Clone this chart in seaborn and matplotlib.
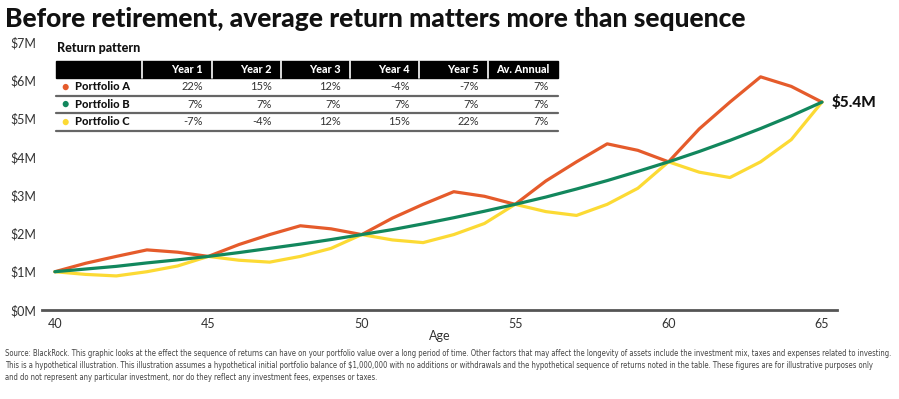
import numpy as np
import pandas as pd
import matplotlib.pyplot as plt
import seaborn as sns
from matplotlib.patches import Rectangle
from matplotlib.lines import Line2D

# portfolio values ($M), ages 40..65
ages = list(range(40, 66))
port_a = [1.00, 1.22, 1.40, 1.57, 1.51, 1.40, 1.71, 1.97, 2.20, 2.12, 1.97, 2.40, 2.76, 3.09, 2.97,
          2.76, 3.37, 3.87, 4.34, 4.17, 3.87, 4.73, 5.43, 6.09, 5.84, 5.43]
port_b = [1.00, 1.07, 1.14, 1.23, 1.31, 1.40, 1.50, 1.61, 1.72, 1.84, 1.97, 2.10, 2.25, 2.41, 2.58,
          2.76, 2.95, 3.16, 3.38, 3.62, 3.87, 4.14, 4.43, 4.74, 5.07, 5.43]
port_c = [1.00, 0.93, 0.89, 1.00, 1.15, 1.40, 1.30, 1.25, 1.40, 1.61, 1.97, 1.83, 1.76, 1.97, 2.26,
          2.76, 2.57, 2.47, 2.76, 3.18, 3.87, 3.60, 3.46, 3.87, 4.45, 5.43]

names = ["Portfolio A", "Portfolio B", "Portfolio C"]
colors = ["#E55B2B", "#12875D", "#FCDA34"]

table_cols = ["", "Year 1", "Year 2", "Year 3", "Year 4", "Year 5", "Av. Annual"]
table_rows = [["22%", "15%", "12%", "-4%", "-7%", "7%"],
              ["7%", "7%", "7%", "7%", "7%", "7%"],
              ["-7%", "-4%", "12%", "15%", "22%", "7%"]]

note_lines = [
    "Source: BlackRock. This graphic looks at the effect the sequence of returns can have on your portfolio value over a long period of time. "
    "Other factors that may affect the longevity of assets include the investment mix, taxes and expenses related to investing.",
    "This is a hypothetical illustration. This illustration assumes a hypothetical initial portfolio balance of $1,000,000 with no additions or withdrawals "
    "and the hypothetical sequence of returns noted in the table. These figures are for illustrative purposes only",
    "and do not represent any particular investment, nor do they reflect any investment fees, expenses or taxes.",
]

df = pd.DataFrame({"age": ages * 3,
                   "value": port_a + port_b + port_c,
                   "portfolio": sum([[n] * len(ages) for n in names], [])})

sns.set_style("white")
plt.rcParams['font.family'] = ['Lato', 'DejaVu Sans']

W, H = 899, 399
fig = plt.figure(figsize=(W / 100, H / 100), dpi=100)

def fx(px):
    return px / W

def fy(py):
    return 1 - py / H

# axes: left 42, right 837, top 42 (7M), bottom 310 (0M)
ax = fig.add_axes([fx(42), fy(310), fx(837 - 42), (310 - 42) / H])
sns.lineplot(data=df, x="age", y="value", hue="portfolio", palette=colors,
             linewidth=2.3, legend=False, ax=ax)
# keep green on top
for ln, z in zip(ax.get_lines(), [2, 4, 3]):
    ln.set_zorder(z)

ax.set_xlim(39.58, 65.49)
ax.set_ylim(0, 7)
ax.set_xticks([40, 45, 50, 55, 60, 65])
ax.set_yticks(range(0, 8))
ax.set_yticklabels([f"${v}M" for v in range(0, 8)])
ax.tick_params(axis="both", length=0, labelsize=9, colors="#333333")
ax.tick_params(axis="x", pad=6)
for lab in ax.get_yticklabels():
    lab.set_horizontalalignment("left")
ax.yaxis.set_tick_params(pad=23)
for s in ["top", "right", "left"]:
    ax.spines[s].set_visible(False)
ax.spines["bottom"].set_color("#555555")
ax.spines["bottom"].set_linewidth(2)
ax.set_xlabel("Age", fontsize=9, color="#333333", labelpad=0)
ax.set_ylabel("")
ax.grid(False)

ax.annotate("$5.4M", xy=(65, port_b[-1]), xytext=(7, 0), textcoords="offset points",
            fontsize=11, fontweight="black", va="center", ha="left", color="#111111")

# title
fig.text(fx(5), fy(19), "Before retirement, average return matters more than sequence",
         fontsize=19, fontweight="black", color="#111111", va="center", ha="left")

# table
fig.text(fx(57), fy(48), "Return pattern", fontsize=9, fontweight="black",
         color="#111111", va="center", ha="left")
col_edges = [56, 142, 212, 281, 350, 419, 488, 558]
head_top, head_bot = 61, 78
row_h = 17.5
fig.add_artist(Rectangle((fx(col_edges[0]), fy(head_bot)), fx(col_edges[-1] - col_edges[0]),
                         (head_bot - head_top) / H, color="black", transform=fig.transFigure))
for e in col_edges[1:-1]:
    fig.add_artist(Line2D([fx(e), fx(e)], [fy(head_top), fy(head_bot)], color="white",
                          linewidth=1.2, transform=fig.transFigure))
for j, c in enumerate(table_cols[1:]):
    fig.text(fx(col_edges[j + 2] - 9), fy((head_top + head_bot) / 2), c, fontsize=7.8,
             fontweight="black", color="white", va="center", ha="right")
for i, (name, vals) in enumerate(zip(names, table_rows)):
    top = head_bot + i * row_h
    cy = top + row_h / 2
    fig.text(fx(61), fy(cy), "\u25CF", fontsize=9, color=colors[i], va="center", ha="left")
    fig.text(fx(75), fy(cy), name, fontsize=8, fontweight="black", color="#111111",
             va="center", ha="left")
    for j, v in enumerate(vals):
        fig.text(fx(col_edges[j + 2] - 9), fy(cy), v, fontsize=8, color="#333333",
                 va="center", ha="right")
    fig.add_artist(Line2D([fx(col_edges[0]), fx(col_edges[-1])], [fy(top + row_h)] * 2,
                          color="#666666", linewidth=1.6, transform=fig.transFigure))

for k, line in enumerate(note_lines):
    fig.text(fx(5), fy(354 + 12 * k), line, fontsize=5.5, color="#444444", va="center",
             ha="left", family="DejaVu Sans", fontstretch="condensed")

fig.savefig("out.png", dpi=100)
